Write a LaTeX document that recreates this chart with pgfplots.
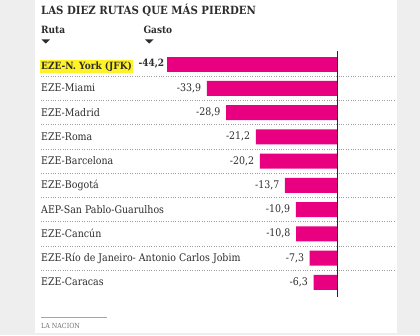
\documentclass[border=0pt]{standalone}
\usepackage{pgfplots}
\pgfplotsset{compat=1.18}
\usepackage{pgfplotstable}
\usepackage{fontspec}
\setmainfont{DejaVu Serif Condensed}
\definecolor{mag}{RGB}{232,0,128}
\definecolor{txt}{RGB}{45,45,45}
\definecolor{hl}{RGB}{255,242,40}
\definecolor{bg}{RGB}{238,238,238}
\pgfplotstableread{
x y lab
-33.9 -1 -33,9
-28.9 -2 -28,9
-21.2 -3 -21,2
-20.2 -4 -20,2
-13.7 -5 -13,7
-10.9 -6 -10,9
-10.8 -7 -10,8
-7.3 -8 -7,3
-6.3 -9 -6,3
}\rutas
\newcommand{\catf}{\fontsize{10.5}{12}\selectfont}
\newcommand{\boldf}{\bfseries\fontsize{10}{12}\selectfont}
\begin{document}
\begin{tikzpicture}
\useasboundingbox (0pt,0pt) rectangle (420pt,335pt);
\fill[bg] (0pt,0pt) rectangle (420pt,335pt);
\fill[white] (35pt,2pt) rectangle (397pt,335pt);
\node[anchor=base west, font=\bfseries\fontsize{11.3}{12}\selectfont, text=txt, inner sep=0] at (41pt,320pt) {LAS DIEZ RUTAS QUE MÁS PIERDEN};
\node[anchor=base west, font=\bfseries\fontsize{10}{12}\selectfont, text=txt, inner sep=0] at (41pt,301.7pt) {Ruta};
\node[anchor=base west, font=\bfseries\fontsize{10}{12}\selectfont, text=txt, inner sep=0] at (143.3pt,301.7pt) {Gasto};
\fill[txt] (41.5pt,295.5pt) -- (50pt,295.5pt) -- (45.75pt,291.5pt) -- cycle;
\fill[txt] (145pt,295.5pt) -- (153.5pt,295.5pt) -- (149.25pt,291.5pt) -- cycle;
\draw[gray!70, line width=0.6pt] (41pt,17.7pt) -- (107pt,17.7pt);
\node[anchor=base west, font=\fontsize{7}{8}\selectfont, text=gray!90!black, inner sep=0] at (41pt,6.7pt) {LA NACION};
\begin{axis}[at={(41pt,38.2pt)}, anchor=south west, scale only axis,
  width=355pt, height=246.1pt,
  xmin=-76.744, xmax=14.987, ymin=-9.6, ymax=0.55,
  axis line style={draw=none}, xtick=\empty,
  ytick={-8.5,-7.5,...,-0.5}, yticklabels={}, major tick length=0pt,
  ymajorgrids, grid style={dotted, gray!75, line width=0.6pt},
  xbar, bar width=15pt, bar shift=0pt, clip=false]
\addplot[fill=mag, draw=none, bar shift=0pt,
  nodes near coords={\boldf -44,2},
  every node near coord/.append style={anchor=east, text=txt, inner sep=0pt, xshift=-2.5pt}]
  coordinates {(-44.2,0)};
\addplot[fill=mag, draw=none, bar shift=0pt,
  nodes near coords, point meta=explicit symbolic,
  every node near coord/.append style={anchor=east, font=\catf, text=txt, inner sep=0pt, xshift=-5.5pt}]
  table[x=x, y=y, meta=lab] {\rutas};
\draw[black!85, line width=1pt] (axis cs:0,-9.6) -- (axis cs:0,0.55);
\node[anchor=base west, font=\boldf, text=txt, fill=hl, inner sep=1.5pt] at (axis cs:-76.744,0) [xshift=-1.5pt, yshift=-5pt] {EZE-N. York (JFK)};
\node[anchor=base west, font=\catf, text=txt, inner sep=0] at (axis cs:-76.744,-1) [yshift=-3.7pt] {EZE-Miami};
\node[anchor=base west, font=\catf, text=txt, inner sep=0] at (axis cs:-76.744,-2) [yshift=-3.7pt] {EZE-Madrid};
\node[anchor=base west, font=\catf, text=txt, inner sep=0] at (axis cs:-76.744,-3) [yshift=-3.7pt] {EZE-Roma};
\node[anchor=base west, font=\catf, text=txt, inner sep=0] at (axis cs:-76.744,-4) [yshift=-3.7pt] {EZE-Barcelona};
\node[anchor=base west, font=\catf, text=txt, inner sep=0] at (axis cs:-76.744,-5) [yshift=-3.7pt] {EZE-Bogotá};
\node[anchor=base west, font=\catf, text=txt, inner sep=0] at (axis cs:-76.744,-6) [yshift=-3.7pt] {AEP-San Pablo-Guarulhos};
\node[anchor=base west, font=\catf, text=txt, inner sep=0] at (axis cs:-76.744,-7) [yshift=-3.7pt] {EZE-Cancún};
\node[anchor=base west, font=\catf, text=txt, inner sep=0] at (axis cs:-76.744,-8) [yshift=-3.7pt] {EZE-Río de Janeiro- Antonio Carlos Jobim};
\node[anchor=base west, font=\catf, text=txt, inner sep=0] at (axis cs:-76.744,-9) [yshift=-3.7pt] {EZE-Caracas};
\end{axis}
\end{tikzpicture}
\end{document}
